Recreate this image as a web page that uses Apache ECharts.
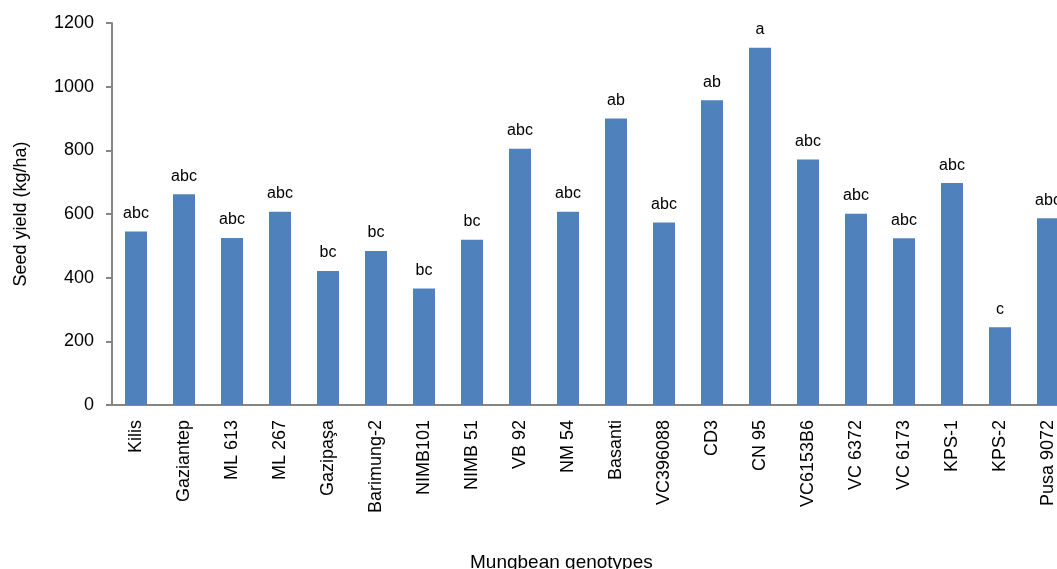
<!DOCTYPE html>
<html>
<head>
<meta charset="utf-8">
<script src="https://cdn.jsdelivr.net/npm/echarts@6/dist/echarts.min.js"></script>
<style>
html,body{margin:0;padding:0;background:#fff;overflow:hidden;width:1057px;height:569px;}
#c{width:1080px;height:569px;}
</style>
</head>
<body>
<div id="c"></div>
<script>
const categories = ["Kilis","Gaziantep","ML 613","ML 267","Gazipaşa","Barimung-2","NIMB101","NIMB 51","VB 92","NM 54","Basanti","VC396088","CD3","CN 95","VC6153B6","VC 6372","VC 6173","KPS-1","KPS-2","Pusa 9072"];
const seedYield = [545,662,525,607,421,484,366,519,805,607,900,573,957,1122,771,601,524,697,244,587];
const letters = ["abc","abc","abc","abc","bc","bc","bc","bc","abc","abc","ab","abc","ab","a","abc","abc","abc","abc","c","abc"];
const yTicks = {min:0, max:1200, interval:200};

const FONT = "'Liberation Sans', Arial, sans-serif";
const chart = echarts.init(document.getElementById('c'), null, {renderer:'canvas'});
chart.setOption({
  animation:false,
  backgroundColor:'#ffffff',
  textStyle:{fontFamily:FONT},
  title:{
    text:'Mungbean genotypes',
    left:465, top:548,
    textStyle:{fontFamily:FONT, fontSize:19, fontWeight:'normal', color:'#000'}
  },
  grid:{left:112, top:23, bottom:164, right:8, containLabel:false},
  xAxis:{
    type:'category',
    data:categories,
    axisLine:{show:true, lineStyle:{color:'#868686', width:2}},
    axisTick:{show:false},
    axisLabel:{rotate:90, margin:15, fontSize:18, color:'#000', fontFamily:FONT, interval:0}
  },
  yAxis:{
    type:'value',
    min:yTicks.min, max:yTicks.max, interval:yTicks.interval,
    name:'Seed yield (kg/ha)',
    nameLocation:'middle',
    nameGap:82,
    nameRotate:90,
    nameTextStyle:{fontSize:18, color:'#000', fontFamily:FONT},
    axisLine:{show:true, lineStyle:{color:'#868686', width:2}},
    axisTick:{show:true, inside:false, length:6, lineStyle:{color:'#868686', width:2}},
    axisLabel:{margin:18, fontSize:18, color:'#000', fontFamily:FONT, formatter:function(v){return String(v);}},
    splitLine:{show:false}
  },
  series:[{
    type:'bar',
    data:seedYield,
    barWidth:22,
    itemStyle:{color:'#4F81BD'},
    label:{
      show:true, position:'top', distance:10,
      fontSize:16, color:'#000', fontFamily:FONT,
      formatter:function(p){return letters[p.dataIndex];}
    }
  }]
});
</script>
</body>
</html>
